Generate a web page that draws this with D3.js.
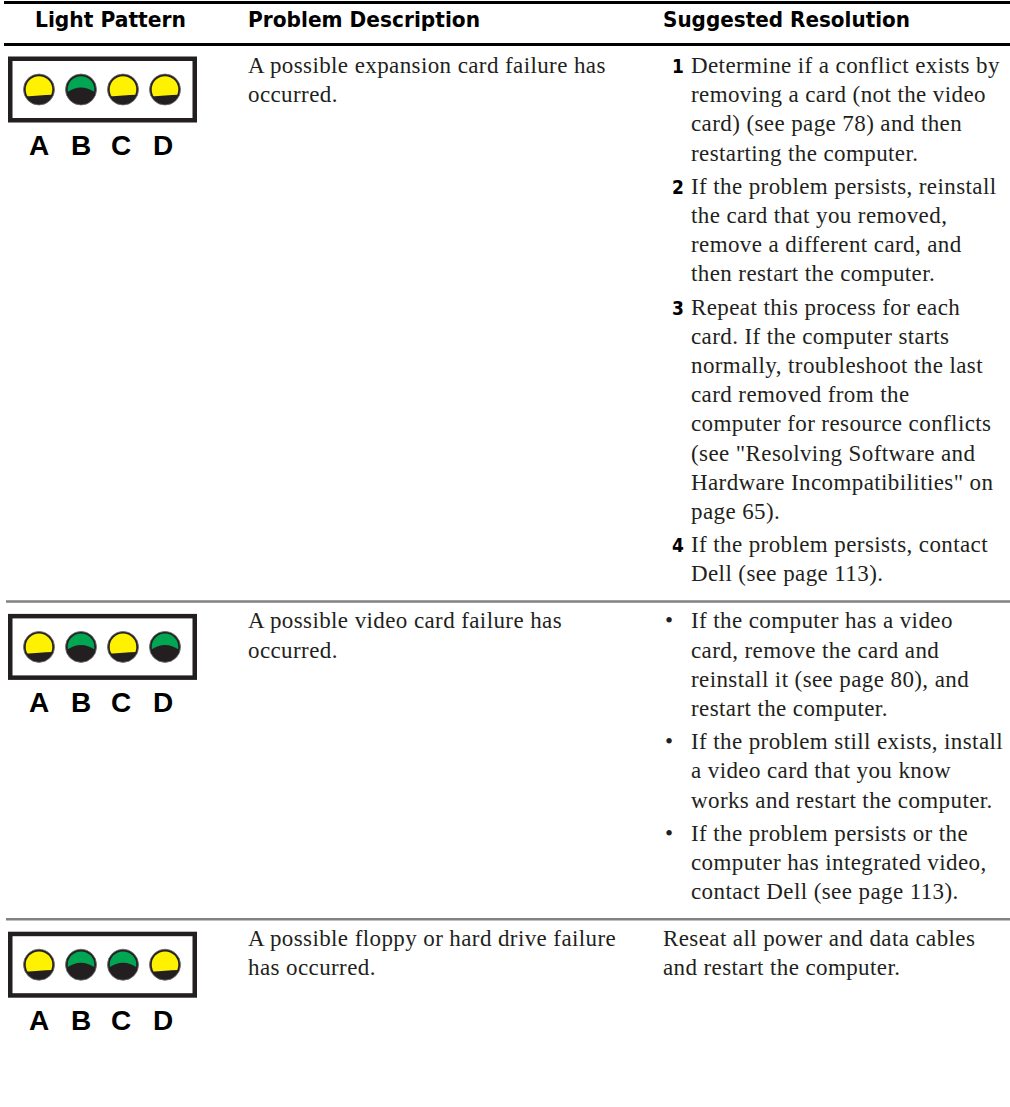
<!DOCTYPE html>
<html><head><meta charset="utf-8">
<script src="https://cdn.jsdelivr.net/npm/d3@7"></script>
<style>html,body{margin:0;padding:0;background:#fff;} svg{display:block}</style>
</head><body><svg id="c" width="1010" height="1107"></svg>
<script>
// ---- data ----
const headers = ["Light Pattern", "Problem Description", "Suggested Resolution"];
const lightNames = ["A", "B", "C", "D"];
const lightPatterns = [
  ["yellow", "green", "yellow", "yellow"],
  ["yellow", "green", "yellow", "green"],
  ["yellow", "green", "green", "yellow"]
];
const problemLines = [
  ["A possible expansion card failure has", "occurred."],
  ["A possible video card failure has", "occurred."],
  ["A possible floppy or hard drive failure", "has occurred."]
];
const resolutionMarkers = [["1", "2", "3", "4"], ["•", "•", "•"], [""]];
const resolutionLines = [
  [
    ["Determine if a conflict exists by", "removing a card (not the video", "card) (see page 78) and then", "restarting the computer."],
    ["If the problem persists, reinstall", "the card that you removed,", "remove a different card, and", "then restart the computer."],
    ["Repeat this process for each", "card. If the computer starts", "normally, troubleshoot the last", "card removed from the", "computer for resource conflicts", "(see \"Resolving Software and", "Hardware Incompatibilities\" on", "page 65)."],
    ["If the problem persists, contact", "Dell (see page 113)."]
  ],
  [
    ["If the computer has a video", "card, remove the card and", "reinstall it (see page 80), and", "restart the computer."],
    ["If the problem still exists, install", "a video card that you know", "works and restart the computer."],
    ["If the problem persists or the", "computer has integrated video,", "contact Dell (see page 113)."]
  ],
  [
    ["Reseat all power and data cables", "and restart the computer."]
  ]
];

// ---- layout ----
const W = 1010;
const LH = 29.2, GAP = 4;
const headerFont = "'DejaVu Sans Condensed','Liberation Sans Narrow','Arial Narrow','DejaVu Sans',sans-serif";
const bodyFont = "'Liberation Serif','Times New Roman',serif";
const bodySize = 23, bodySpacing = 0.4;
const colX = [35, 248, 663];
const headerWidths = [151, 232, 247];
const markerRight = 684, itemX = 691, bulletX = 665;
const colors = {yellow: "#fff200", green: "#00a651", dark: "#231f20", rule: "#808285"};

const svg = d3.select("#c");
svg.append("rect").attr("width", W).attr("height", 1107).attr("fill", "#fff");

// header
svg.append("line").attr("x1", 4).attr("x2", W).attr("y1", 2.5).attr("y2", 2.5)
  .attr("stroke", "#000").attr("stroke-width", 3);
svg.append("line").attr("x1", 4).attr("x2", W).attr("y1", 44.5).attr("y2", 44.5)
  .attr("stroke", "#000").attr("stroke-width", 3);
svg.selectAll("text.hdr").data(headers).join("text").attr("class", "hdr")
  .attr("x", (d, i) => colX[i]).attr("y", 27)
  .attr("textLength", (d, i) => headerWidths[i]).attr("lengthAdjust", "spacingAndGlyphs")
  .attr("font-family", headerFont).attr("font-weight", "bold").attr("font-size", 20.5)
  .attr("fill", "#000").text(d => d);

// compute rows layout
const rows = [];
let rowTop = 44.5, first = 73;
for (let r = 0; r < problemLines.length; r++) {
  let y = first;
  const items = resolutionLines[r].map((lines, k) => {
    const ys = lines.map((l, j) => y + j * LH);
    y = ys[ys.length - 1] + LH + GAP;
    return {marker: resolutionMarkers[r][k], lines, ys};
  });
  const lastItem = items[items.length - 1];
  const last = lastItem.ys[lastItem.ys.length - 1];
  rows.push({top: rowTop, first, items, last});
  rowTop = last + 20;
  first = rowTop + 27;
}

const xLight = d3.scalePoint().domain(lightNames).range([39, 165]);
const outerR = 15.5, innerR = 13.3;

rows.forEach((row, r) => {
  const g = svg.append("g");
  if (r > 0) {
    g.append("line").attr("x1", 6).attr("x2", W).attr("y1", row.top).attr("y2", row.top)
      .attr("stroke", colors.rule).attr("stroke-width", 2.5);
  }
  // light box
  const boxTop = r === 0 ? 56.5 : row.top + 12.5;
  g.append("rect").attr("x", 10.25).attr("y", boxTop + 2.25).attr("width", 184.5).attr("height", 61.5)
    .attr("fill", "#fff").attr("stroke", colors.dark).attr("stroke-width", 4.5);
  const cy = boxTop + 33;
  const lights = g.selectAll("g.light").data(lightPatterns[r].map((c, i) => ({c, name: lightNames[i]})))
    .join("g").attr("class", "light")
    .attr("transform", d => `translate(${xLight(d.name)},${cy})`);
  lights.append("circle").attr("r", outerR).attr("fill", colors.dark)
    .attr("stroke", "#6d6e71").attr("stroke-width", 0.8);
  lights.each(function (d, i) {
    const id = `clip-${r}-${i}`;
    const s = d3.select(this);
    s.append("clipPath").attr("id", id).append("circle").attr("r", innerR);
    const p = d.c === "yellow"
      ? `M-15,-15 L15,-15 L15,5.2 C6,5 -4,6.4 -15,7 Z`
      : `M-15,-15 L15,-15 L15,3.5 Q0,-7.5 -15,3.5 Z`;
    s.append("path").attr("d", p).attr("fill", colors[d.c]).attr("clip-path", `url(#${id})`);
  });
  g.selectAll("text.lbl").data(lightNames).join("text").attr("class", "lbl")
    .attr("x", d => xLight(d) - (lightNames.indexOf(d) >= 2 ? 2 : 0)).attr("y", boxTop + 98)
    .attr("text-anchor", "middle").attr("font-family", "'Liberation Sans',Arial,sans-serif")
    .attr("font-weight", "bold").attr("font-size", 28).attr("fill", "#000").text(d => d);

  // problem description
  g.selectAll("text.prob").data(problemLines[r]).join("text").attr("class", "prob")
    .attr("x", colX[1]).attr("y", (d, j) => row.first + j * LH)
    .attr("font-family", bodyFont).attr("font-size", bodySize).attr("letter-spacing", bodySpacing)
    .attr("fill", "#231f20").text(d => d);

  // resolution
  row.items.forEach(it => {
    const tx = it.marker === "" ? colX[2] : itemX;
    if (it.marker === "•") {
      g.append("text").attr("x", bulletX).attr("y", it.ys[0])
        .attr("font-family", bodyFont).attr("font-size", bodySize).attr("fill", "#231f20").text(it.marker);
    } else if (it.marker !== "") {
      g.append("text").attr("x", markerRight).attr("y", it.ys[0]).attr("text-anchor", "end")
        .attr("font-family", headerFont).attr("font-weight", "bold").attr("font-size", 19)
        .attr("fill", "#000").text(it.marker);
    }
    g.selectAll(null).data(it.lines).join("text")
      .attr("x", tx).attr("y", (d, j) => it.ys[j])
      .attr("font-family", bodyFont).attr("font-size", bodySize).attr("letter-spacing", bodySpacing)
      .attr("fill", "#231f20").text(d => d);
  });
});
</script>
</body></html>
